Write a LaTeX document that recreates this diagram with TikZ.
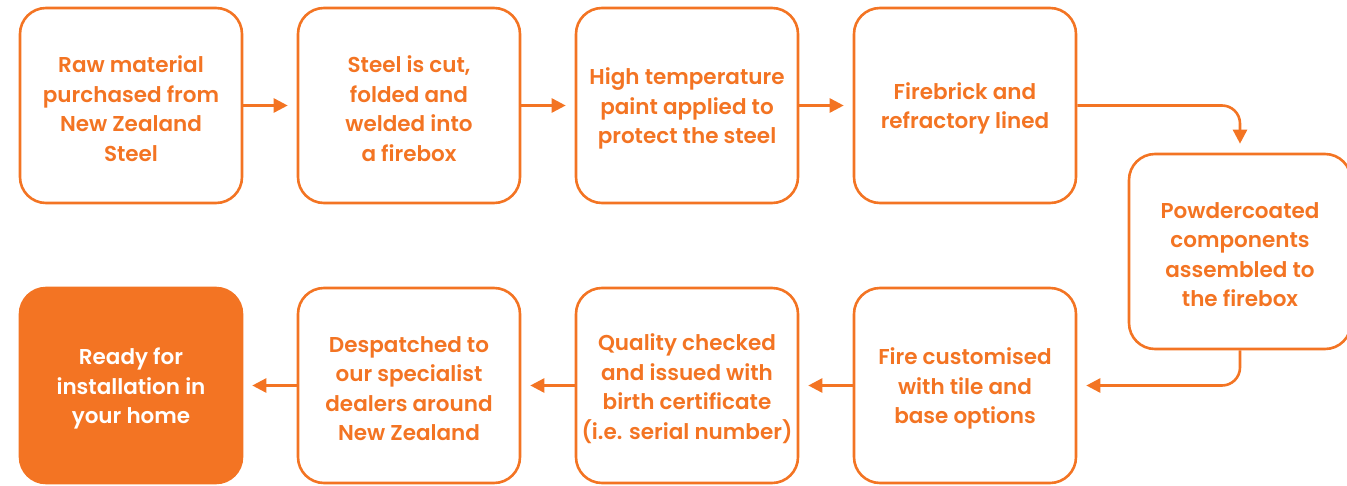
\documentclass[tikz,border=0pt]{standalone}
\usepackage{fontspec}
\setmainfont{Poppins}[BoldFont={* SemiBold}]
\usetikzlibrary{arrows.meta}
\definecolor{brand}{HTML}{F37423}
\begin{document}
\begin{tikzpicture}[x=1pt,y=-1pt,
  stepbox/.style={draw=brand, line width=2.6pt, rounded corners=26pt, minimum width=222pt, minimum height=195pt, inner sep=0pt},
  donebox/.style={stepbox, fill=brand},
  steptext/.style={text=brand, align=center, font=\fontsize{21.5}{29.5}\selectfont\bfseries, inner sep=0pt, yshift=-3pt},
  donetext/.style={steptext, text=white},
  flow/.style={draw=brand, line width=2.6pt, -{Triangle[length=14pt,width=14pt]}, shorten >=9pt}]
\useasboundingbox (0,0) rectangle (1347,485);
\node[stepbox] (b1) at (131,105.5) {};
\node[stepbox] (b2) at (409,105.5) {};
\node[stepbox] (b3) at (687,105.5) {};
\node[stepbox] (b4) at (965,105.5) {};
\node[stepbox] (b5) at (1240,251.5) {};
\node[stepbox] (b6) at (965,385.5) {};
\node[stepbox] (b7) at (687,385.5) {};
\node[stepbox] (b8) at (409,385.5) {};
\node[donebox] (b9) at (131,385.5) {};
\node[steptext] (t1) at (b1) {Raw material\\purchased from\\New Zealand\\Steel};
\node[steptext] (t2) at (b2) {Steel is cut,\\folded and\\welded into\\a firebox};
\node[steptext] (t3) at (b3) {High temperature\\paint applied to\\protect the steel};
\node[steptext] (t4) at (b4) {Firebrick and\\refractory lined};
\node[steptext] (t5) at (b5) {Powdercoated\\components\\assembled to\\the firebox};
\node[steptext] (t6) at (b6) {Fire customised\\with tile and\\base options};
\node[steptext] (t7) at (b7) {Quality checked\\and issued with\\birth certificate\\(i.e. serial number)};
\node[steptext] (t8) at (b8) {Despatched to\\our specialist\\dealers around\\New Zealand};
\node[donetext] (t9) at (b9) {Ready for\\installation in\\your home};
\draw[flow] (b1) -- (b2);
\draw[flow] (b2) -- (b3);
\draw[flow] (b3) -- (b4);
\draw[flow, rounded corners=18pt] (b4.east) -- (b4.east -| b5.north) -- (b5.north);
\draw[flow, rounded corners=18pt] (b5.south) -- (b5.south |- b6.east) -- (b6.east);
\draw[flow] (b6) -- (b7);
\draw[flow] (b7) -- (b8);
\draw[flow] (b8) -- (b9);
\end{tikzpicture}
\end{document}
